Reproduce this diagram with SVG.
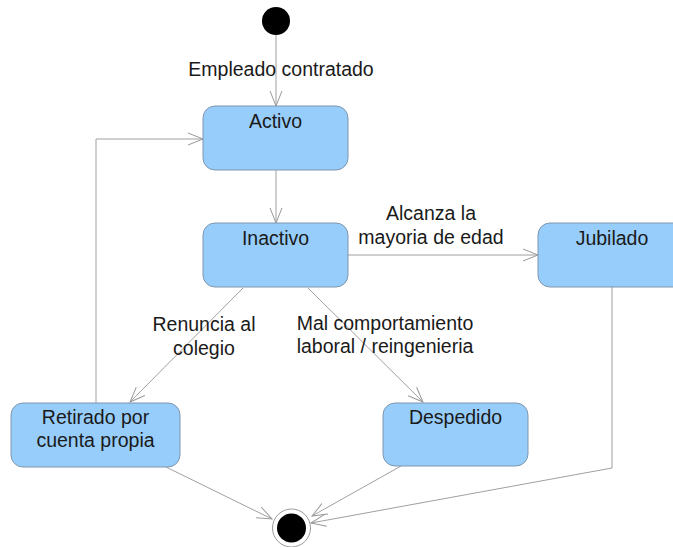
<svg xmlns="http://www.w3.org/2000/svg" width="673" height="547" viewBox="0 0 673 547">
<defs>
<marker id="arr" viewBox="0 0 16 14" refX="15" refY="7" markerWidth="16" markerHeight="14" markerUnits="userSpaceOnUse" orient="auto">
<path d="M0,1 L15,7 L0,13" fill="none" stroke="#999" stroke-width="1"/>
</marker>
<style>
.st rect{fill:#97CDFB;stroke:#7F96AD;stroke-width:1}
text{font-family:"Liberation Sans",Arial,sans-serif;font-size:19.5px;fill:#1a1a1a;text-anchor:middle}
.c{fill:none;stroke:#a0a0a0;stroke-width:1;marker-end:url(#arr)}
</style>
</defs>
<rect width="673" height="547" fill="#fff"/>
<g id="connectors">
<line class="c" x1="276" y1="35" x2="276" y2="106"/>
<line class="c" x1="276" y1="170" x2="276" y2="223"/>
<line class="c" x1="348" y1="255" x2="538" y2="255"/>
<line class="c" x1="243" y1="288" x2="130" y2="402"/>
<line class="c" x1="308" y1="288" x2="423" y2="402"/>
<polyline class="c" points="96,403 96,139 203,139"/>
<line class="c" x1="166" y1="467" x2="272" y2="519"/>
<line class="c" x1="401" y1="466" x2="312" y2="516"/>
<polyline class="c" points="612,287 612,468 311,523"/>
<text x="281" y="76">Empleado contratado</text>
<text x="431" y="220">Alcanza la</text>
<text x="431" y="244">mayoria de edad</text>
<text x="204" y="331">Renuncia al</text>
<text x="204" y="355">colegio</text>
<text x="385" y="330">Mal comportamiento</text>
<text x="385" y="353">laboral / reingenieria</text>
</g>
<g id="start"><circle cx="276" cy="21" r="14" fill="#000"/></g>
<g id="activo" class="st"><rect x="203" y="106" width="145" height="64" rx="12"/><text x="275.5" y="128">Activo</text></g>
<g id="inactivo" class="st"><rect x="203" y="223" width="145" height="64" rx="12"/><text x="275.5" y="245">Inactivo</text></g>
<g id="jubilado" class="st"><rect x="538" y="223" width="148" height="64" rx="12"/><text x="612" y="245">Jubilado</text></g>
<g id="retirado" class="st"><rect x="11" y="403" width="169" height="64" rx="12"/><text x="95.5" y="424">Retirado por</text><text x="95.5" y="447">cuenta propia</text></g>
<g id="despedido" class="st"><rect x="383" y="403" width="145" height="63" rx="12"/><text x="455.5" y="424">Despedido</text></g>
<g id="end"><circle cx="291.5" cy="528" r="19" fill="#fff" stroke="#999" stroke-width="1"/><circle cx="291.5" cy="528" r="14.5" fill="#000"/></g>
</svg>
